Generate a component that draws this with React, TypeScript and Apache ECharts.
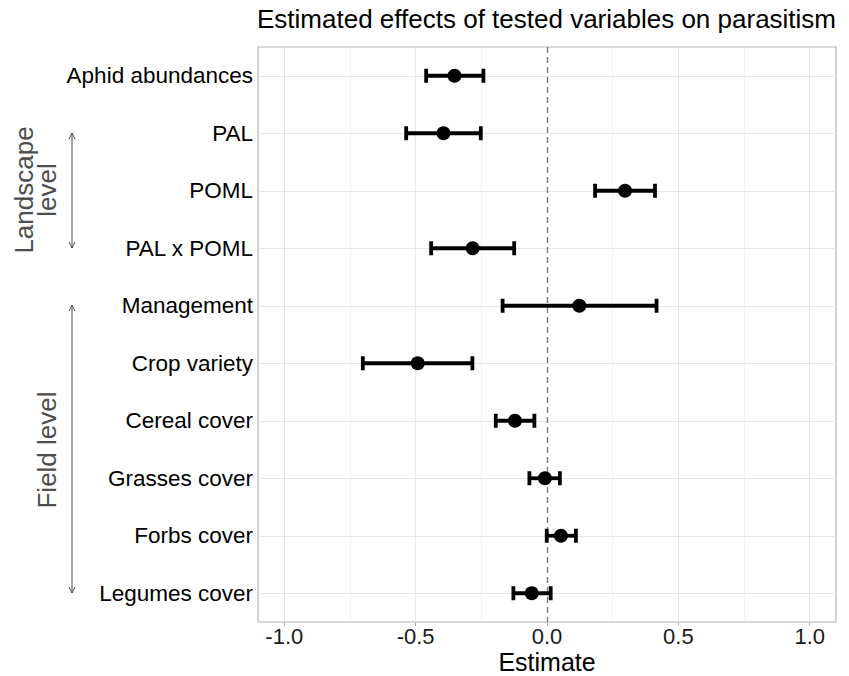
import { useEffect, useRef } from "react";
import * as echarts from "echarts";

const categories = [
  "Aphid abundances",
  "PAL",
  "POML",
  "PAL x POML",
  "Management",
  "Crop variety",
  "Cereal cover",
  "Grasses cover",
  "Forbs cover",
  "Legumes cover",
];
const estimates = [-0.352, -0.394, 0.297, -0.283, 0.123, -0.492, -0.122, -0.008, 0.053, -0.058];
const lower = [-0.46, -0.536, 0.183, -0.441, -0.169, -0.701, -0.195, -0.067, -0.001, -0.128];
const upper = [-0.242, -0.252, 0.411, -0.125, 0.417, -0.284, -0.048, 0.049, 0.11, 0.014];
const xMajorTicks = [-1, -0.5, 0, 0.5, 1];
const xMinorTicks = [-0.75, -0.25, 0.25, 0.75];

const FONT = "'Liberation Sans', Arial, sans-serif";
const ANNOT = "#4d4d4d";

function arrow(x: number, y1: number, y2: number) {
  const s = { stroke: ANNOT, lineWidth: 1 };
  return {
    type: "group",
    children: [
      { type: "line", shape: { x1: x, y1, x2: x, y2 }, style: s },
      { type: "polyline", shape: { points: [[x - 3, y1 + 6], [x, y1], [x + 3, y1 + 6]] }, style: { ...s, fill: null } },
      { type: "polyline", shape: { points: [[x - 3, y2 - 6], [x, y2], [x + 3, y2 - 6]] }, style: { ...s, fill: null } },
    ],
  };
}

export default function App() {
  const ref = useRef<HTMLDivElement>(null);
  useEffect(() => {
    if (!ref.current) return;
    const chart = echarts.init(ref.current, undefined, { renderer: "svg" });
    const option: any = {
      animation: false,
      backgroundColor: "#ffffff",
      textStyle: { fontFamily: FONT },
      title: {
        text: "Estimated effects of tested variables on parasitism",
        left: 257,
        top: 6,
        padding: 0,
        textStyle: { fontFamily: FONT, fontSize: 26, fontWeight: "normal", color: "#000" },
      },
      grid: {
        left: 258,
        right: 13,
        top: 47,
        bottom: 54,
        outerBoundsMode: "none",
        containLabel: false,
        show: true,
        borderColor: "#b3b3b3",
        borderWidth: 1.2,
        backgroundColor: "#fff",
      },
      xAxis: {
        type: "value",
        min: -1.1,
        max: 1.1,
        name: "Estimate",
        nameLocation: "middle",
        nameGap: 28,
        nameMoveOverlap: false,
        nameTextStyle: { fontFamily: FONT, fontSize: 25, lineHeight: 24, color: "#000" },
        axisLine: { show: false },
        splitLine: { show: false },
        axisTick: {
          show: true,
          customValues: xMajorTicks,
          length: 4,
          lineStyle: { color: "#b3b3b3", width: 1 },
        },
        axisLabel: {
          customValues: xMajorTicks,
          formatter: (v: number) => v.toFixed(1),
          fontFamily: FONT,
          fontSize: 22,
          lineHeight: 22,
          color: "#1a1a1a",
          margin: 3,
        },
      },
      yAxis: {
        type: "category",
        data: categories,
        inverse: true,
        axisLine: { show: false },
        splitLine: { show: false },
        axisTick: {
          show: true,
          alignWithLabel: true,
          length: 4,
          lineStyle: { color: "#b3b3b3", width: 1 },
        },
        axisLabel: { fontFamily: FONT, fontSize: 22.5, color: "#000", margin: 5 },
      },
      series: [
        {
          type: "scatter",
          data: [],
          silent: true,
          z: 1,
          markLine: {
            silent: true,
            symbol: "none",
            label: { show: false },
            animation: false,
            lineStyle: { color: "#ebebeb", width: 0.6, type: "solid" },
            data: xMinorTicks.map((v) => ({ xAxis: v })),
          },
        },
        {
          type: "scatter",
          data: [],
          silent: true,
          z: 2,
          markLine: {
            silent: true,
            symbol: "none",
            label: { show: false },
            animation: false,
            lineStyle: { color: "#e6e6e6", width: 1.1, type: "solid" },
            data: [
              ...xMajorTicks.filter((v) => v !== 0).map((v) => ({ xAxis: v })),
              ...categories.map((_, i) => ({ yAxis: i })),
            ],
          },
        },
        {
          type: "scatter",
          data: [],
          silent: true,
          z: 3,
          markLine: {
            silent: true,
            symbol: "none",
            label: { show: false },
            animation: false,
            lineStyle: { color: "#7f7f7f", width: 1.4, type: [6, 4] },
            data: [{ xAxis: 0 }],
          },
        },
        {
          type: "custom",
          z: 5,
          data: categories.map((_, i) => [lower[i], upper[i], i]),
          encode: { x: [0, 1], y: 2 },
          renderItem: (_params: any, api: any) => {
            const idx = api.value(2);
            const lo = api.coord([api.value(0), idx]);
            const hi = api.coord([api.value(1), idx]);
            const h = 7;
            const st = { stroke: "#000", lineWidth: 3.8 };
            return {
              type: "group",
              children: [
                { type: "line", shape: { x1: lo[0], y1: lo[1], x2: hi[0], y2: hi[1] }, style: st },
                { type: "line", shape: { x1: lo[0], y1: lo[1] - h, x2: lo[0], y2: lo[1] + h }, style: st },
                { type: "line", shape: { x1: hi[0], y1: hi[1] - h, x2: hi[0], y2: hi[1] + h }, style: st },
              ],
            };
          },
        },
        {
          type: "scatter",
          z: 6,
          symbol: "circle",
          symbolSize: 14,
          itemStyle: { color: "#000", opacity: 1 },
          data: estimates.map((v, i) => [v, i]),
        },
      ],
      graphic: [
        {
          type: "text",
          x: 35,
          y: 190,
          rotation: Math.PI / 2,
          style: {
            text: "Landscape\nlevel",
            fontFamily: FONT,
            fontSize: 26,
            lineHeight: 23,
            fill: ANNOT,
            align: "center",
            verticalAlign: "middle",
          },
        },
        {
          type: "text",
          x: 47,
          y: 450,
          rotation: Math.PI / 2,
          style: {
            text: "Field level",
            fontFamily: FONT,
            fontSize: 26,
            fill: ANNOT,
            align: "center",
            verticalAlign: "middle",
          },
        },
        arrow(72, 133, 248),
        arrow(72, 305, 593),
      ],
    };
    chart.setOption(option);
    return () => chart.dispose();
  }, []);
  return (
    <div
      ref={ref}
      style={{ position: "fixed", left: 0, top: 0, width: 849, height: 676 }}
    />
  );
}
